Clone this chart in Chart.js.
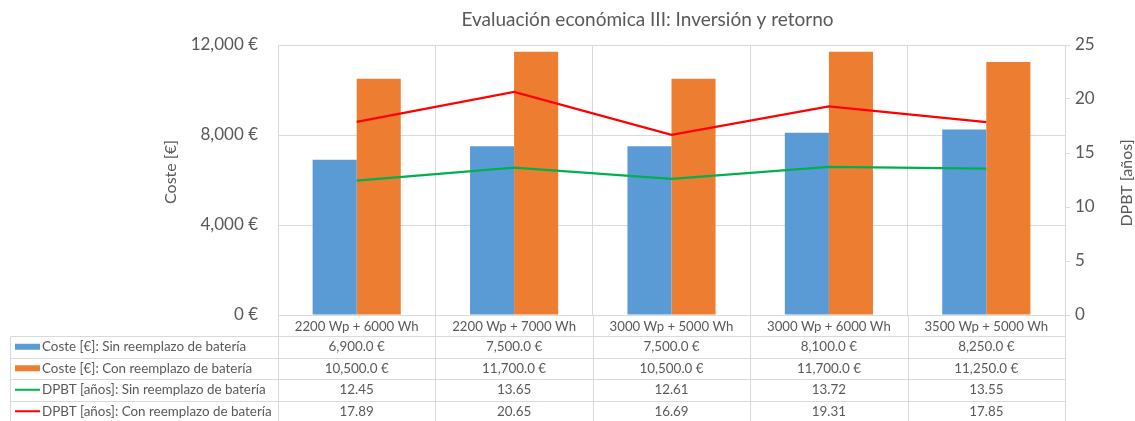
<!DOCTYPE html>
<html>
<head>
<meta charset="utf-8">
<script src="https://cdn.jsdelivr.net/npm/chart.js@4.4.1/dist/chart.umd.min.js"></script>
<style>
  html, body { margin: 0; padding: 0; background: #ffffff; }
  #wrap { width: 1135px; height: 421px; }
</style>
</head>
<body>
<div id="wrap"><canvas id="chart" width="1135" height="421"></canvas></div>
<script>
// Configurations compared
const categories = ['2200 Wp + 6000 Wh', '2200 Wp + 7000 Wh', '3000 Wp + 5000 Wh', '3000 Wp + 6000 Wh', '3500 Wp + 5000 Wh'];

// Cost of the installation [€]
const costeSinReemplazo = [6900, 7500, 7500, 8100, 8250];
const costeConReemplazo = [10500, 11700, 10500, 11700, 11250];

// Discounted payback time [years]
const dpbtSinReemplazo = [12.45, 13.65, 12.61, 13.72, 13.55];
const dpbtConReemplazo = [17.89, 20.65, 16.69, 19.31, 17.85];

const seriesNames = [
  'Coste [€]: Sin reemplazo de batería',
  'Coste [€]: Con reemplazo de batería',
  'DPBT [años]: Sin reemplazo de batería',
  'DPBT [años]: Con reemplazo de batería'
];

const costeTicks = [0, 4000, 8000, 12000];
const dpbtTicks = [0, 5, 10, 15, 20, 25];

const FONT = 'Lato, "Open Sans", sans-serif';
const TEXT = '#595959';
const GRID = '#D9D9D9';
const COLORS = ['#5B9BD5', '#ED7D31', '#00B050', '#FF0000'];

const fmtEuro = v => v.toLocaleString('en-US') + ' €';
const fmtEuro1 = v => v.toLocaleString('en-US', { minimumFractionDigits: 1, maximumFractionDigits: 1 }) + ' €';
const fmtYears = v => v.toFixed(2);

// Axis titles, both reading bottom to top
const axisTitles = {
  id: 'axisTitles',
  afterDraw(chart) {
    const { ctx } = chart;
    const draw = (text, x, y) => {
      ctx.save();
      ctx.translate(x, y);
      ctx.rotate(-Math.PI / 2);
      ctx.font = '16px ' + FONT;
      ctx.fillStyle = TEXT;
      ctx.textAlign = 'center';
      ctx.textBaseline = 'middle';
      ctx.fillText(text, 0, 0);
      ctx.restore();
    };
    draw('Coste [€]', 171, 172);
    draw('DPBT [años]', 1127, 183);
  }
};

// Data table under the plot: one row per series, one column per category
const dataTable = {
  id: 'dataTable',
  afterDraw(chart) {
    const { ctx, chartArea: area, scales: { x } } = chart;
    const firstRow = area.bottom + 21;
    const rowH = 21.5;
    const tableLeft = 10;
    const rows = [
      { values: costeSinReemplazo, fmt: fmtEuro1, kind: 'bar' },
      { values: costeConReemplazo, fmt: fmtEuro1, kind: 'bar' },
      { values: dpbtSinReemplazo, fmt: fmtYears, kind: 'line' },
      { values: dpbtConReemplazo, fmt: fmtYears, kind: 'line' }
    ];
    ctx.save();
    ctx.strokeStyle = GRID;
    ctx.lineWidth = 1;
    // horizontal row borders
    for (let i = 0; i < rows.length; i++) {
      const y = Math.round(firstRow + i * rowH) + 0.5;
      ctx.beginPath();
      ctx.moveTo(tableLeft, y);
      ctx.lineTo(area.right, y);
      ctx.stroke();
    }
    // left border of legend column
    ctx.beginPath();
    ctx.moveTo(tableLeft + 0.5, firstRow);
    ctx.lineTo(tableLeft + 0.5, chart.height);
    ctx.stroke();
    // column borders continue the category grid
    const n = categories.length;
    const step = (area.right - area.left) / n;
    for (let i = 0; i <= n; i++) {
      const xx = Math.round(area.left + i * step) + 0.5;
      ctx.beginPath();
      ctx.moveTo(xx, area.bottom);
      ctx.lineTo(xx, chart.height);
      ctx.stroke();
    }
    // cells
    ctx.font = '13.4px ' + FONT;
    ctx.fillStyle = TEXT;
    ctx.textBaseline = 'middle';
    rows.forEach((row, r) => {
      const cy = firstRow + r * rowH + rowH / 2;
      // legend key
      if (row.kind === 'bar') {
        ctx.fillStyle = COLORS[r];
        ctx.fillRect(15, cy - 3, 25, 6);
      } else {
        ctx.strokeStyle = COLORS[r];
        ctx.lineWidth = 2;
        ctx.beginPath();
        ctx.moveTo(15, cy);
        ctx.lineTo(40, cy);
        ctx.stroke();
      }
      ctx.fillStyle = TEXT;
      ctx.textAlign = 'left';
      ctx.fillText(seriesNames[r], 42, cy);
      ctx.textAlign = 'center';
      row.values.forEach((v, i) => {
        ctx.fillText(row.fmt(v), x.getPixelForValue(i), cy);
      });
    });
    ctx.restore();
  }
};

new Chart(document.getElementById('chart'), {
  type: 'bar',
  data: {
    labels: categories,
    datasets: [
      { label: seriesNames[0], data: costeSinReemplazo, yAxisID: 'y', order: 2,
        backgroundColor: COLORS[0], categoryPercentage: 0.56, barPercentage: 1 },
      { label: seriesNames[1], data: costeConReemplazo, yAxisID: 'y', order: 3,
        backgroundColor: COLORS[1], categoryPercentage: 0.56, barPercentage: 1 },
      { type: 'line', label: seriesNames[2], data: dpbtSinReemplazo, yAxisID: 'y1', order: 1,
        borderColor: COLORS[2], backgroundColor: COLORS[2], borderWidth: 2.25, pointRadius: 0, tension: 0 },
      { type: 'line', label: seriesNames[3], data: dpbtConReemplazo, yAxisID: 'y1', order: 0,
        borderColor: COLORS[3], backgroundColor: COLORS[3], borderWidth: 2.25, pointRadius: 0, tension: 0 }
    ]
  },
  options: {
    responsive: false,
    animation: false,
    devicePixelRatio: 1,
    layout: { padding: { left: 160, right: 0, top: 0, bottom: 0 } },
    plugins: {
      legend: { display: false },
      tooltip: { enabled: false },
      title: {
        display: true,
        text: 'Evaluación económica III: Inversión y retorno',
        color: TEXT,
        font: { family: FONT, size: 19, weight: 'normal', lineHeight: 1.2 },
        padding: { top: 8.6, bottom: 13.6 }
      }
    },
    scales: {
      x: {
        offset: true,
        grid: { display: true, offset: true, color: GRID, drawTicks: false },
        border: { display: true, color: GRID },
        ticks: { color: TEXT, font: { family: FONT, size: 13.2 }, padding: 4, maxRotation: 0, autoSkip: false },
        afterFit: s => { s.height = 106; }
      },
      y: {
        position: 'left',
        min: 0, max: 12000,
        afterBuildTicks: s => { s.ticks = costeTicks.map(v => ({ value: v })); },
        grid: { color: GRID, drawTicks: false },
        border: { display: false },
        ticks: { color: TEXT, font: { family: FONT, size: 17 }, padding: 20, callback: v => fmtEuro(v) },
        afterFit: s => { s.width = 118; }
      },
      y1: {
        position: 'right',
        min: 0, max: 25,
        afterBuildTicks: s => { s.ticks = dpbtTicks.map(v => ({ value: v })); },
        grid: { drawOnChartArea: false, drawTicks: true, tickLength: 5, color: GRID },
        border: { display: true, color: GRID },
        ticks: { color: TEXT, font: { family: FONT, size: 17 }, padding: 5 },
        afterFit: s => { s.width = 70; }
      }
    }
  },
  plugins: [dataTable, axisTitles]
});
</script>
</body>
</html>
